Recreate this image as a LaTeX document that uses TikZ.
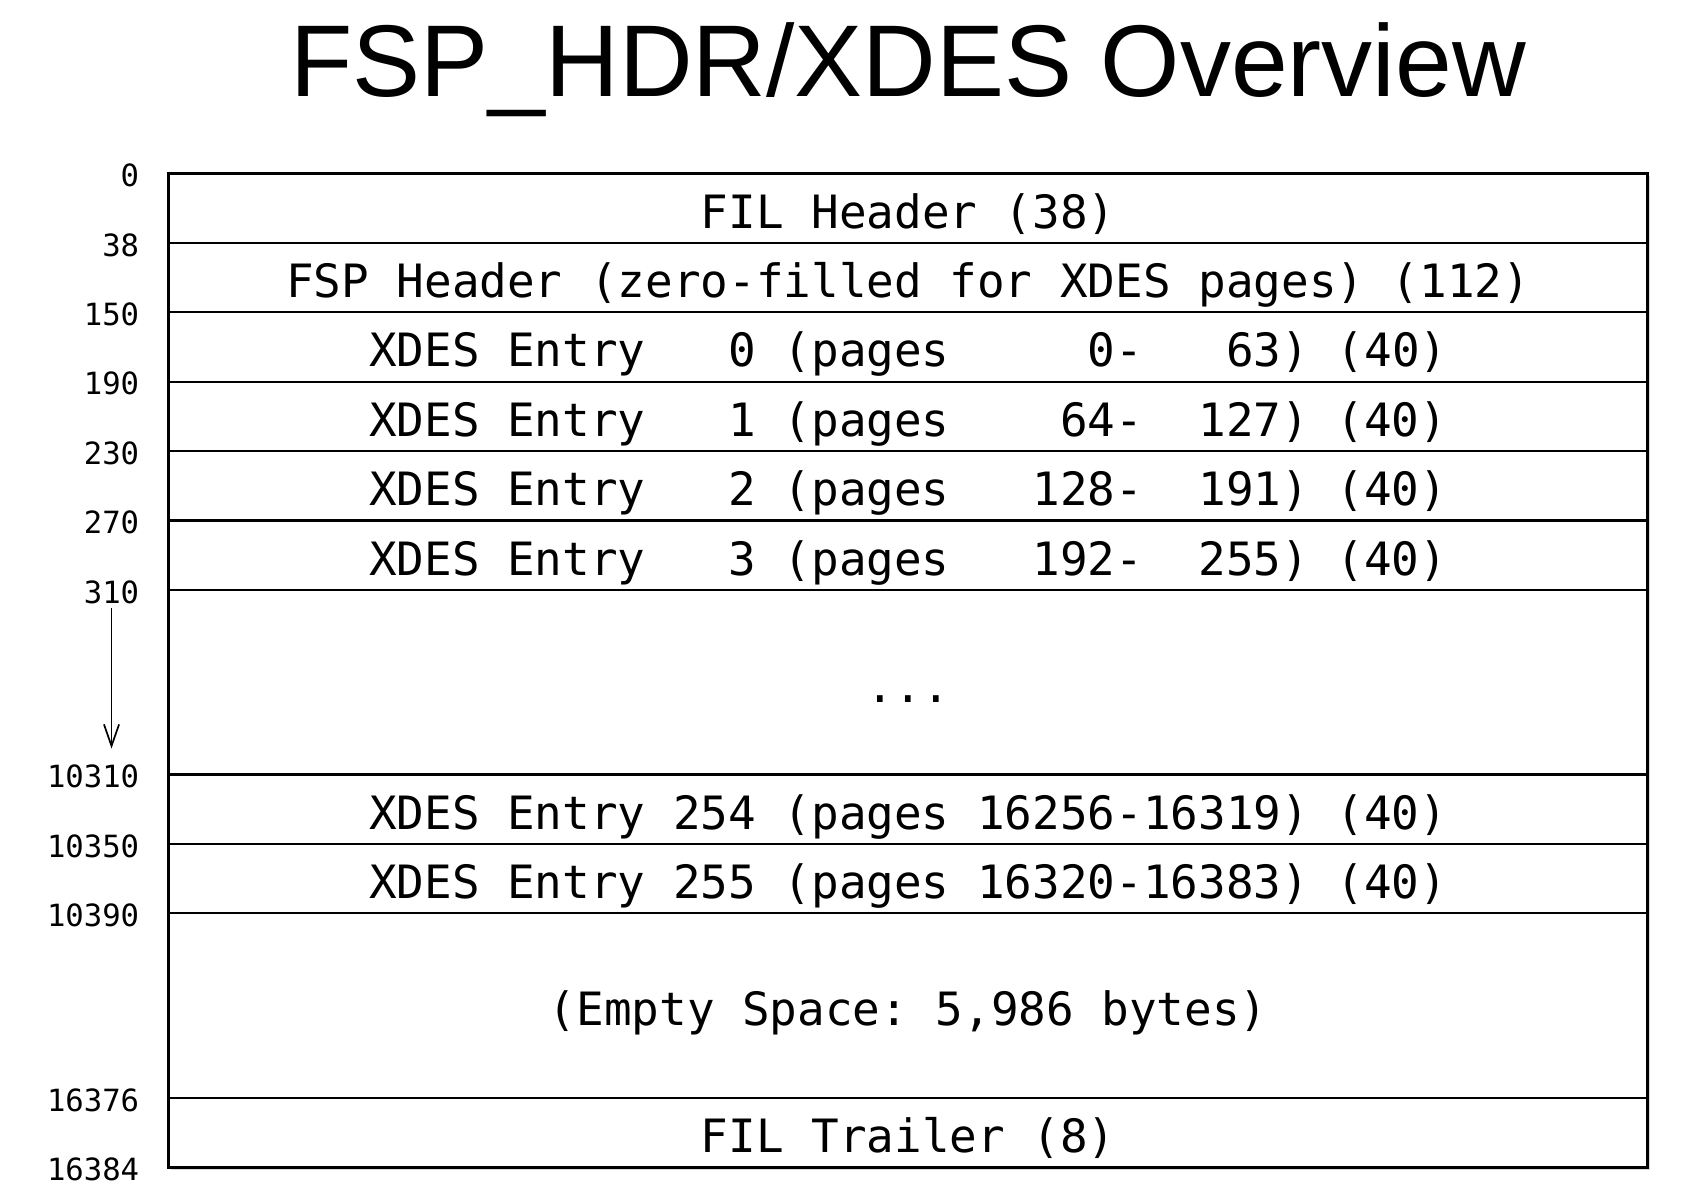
\documentclass[tikz,border=0pt]{standalone}
\usepackage{fontspec}
\setmainfont{Liberation Sans}
\newfontfamily\codefont{DejaVu Sans Mono}
\usetikzlibrary{positioning,arrows.meta,backgrounds,shadows}
\frenchspacing

\begin{document}
\begin{tikzpicture}
    [
    x=0.5pt, y=-0.5pt,
    field/.style={draw, line width=1pt, rectangle, inner sep=0pt, outer sep=0pt,
      minimum width=686pt, minimum height=32.2pt, text height=18.6pt, text depth=0pt,
      font=\codefont\fontsize{21.3}{24}\selectfont},
    wide field/.style={field, minimum height=85.6pt},
    offlabel/.style={anchor=east, inner sep=0pt, xshift=-13.5pt, yshift=-1pt,
      font=\codefont\fontsize{14.2}{16}\selectfont},
    frame/.style={draw, line width=1.3pt, fill=white,
      drop shadow={opacity=0.3, shadow xshift=1.2pt, shadow yshift=-1.2pt}},
    ]
    \useasboundingbox (0,0) rectangle (1560.3,1105.8);

    \node[field] (fil) at (842.5,193) {FIL Header (38)};
    \node[field, below=0pt of fil] (fsp) {FSP Header (zero-filled for XDES pages) (112)};
    \node[field, below=0pt of fsp] (x0) {XDES Entry~~~0 (pages~~~~~0-~~~63) (40)};
    \node[field, below=0pt of x0] (x1) {XDES Entry~~~1 (pages~~~~64-~~127) (40)};
    \node[field, below=0pt of x1] (x2) {XDES Entry~~~2 (pages~~~128-~~191) (40)};
    \node[field, below=0pt of x2] (x3) {XDES Entry~~~3 (pages~~~192-~~255) (40)};
    \node[wide field, below=0pt of x3] (dots) {...};
    \node[field, below=0pt of dots] (x254) {XDES Entry 254 (pages 16256-16319) (40)};
    \node[field, below=0pt of x254] (x255) {XDES Entry 255 (pages 16320-16383) (40)};
    \node[wide field, below=0pt of x255] (empty) {(Empty Space: 5,986 bytes)};
    \node[field, below=0pt of empty] (trl) {FIL Trailer (8)};

    \node[above=35.5pt of fil, inner sep=0pt, text depth=0pt,
      font=\fontsize{47.3}{50}\selectfont] (title) {FSP\_HDR/XDES Overview};

    % byte offsets
    \node[offlabel] (o0) at (fil.north west) {0};
    \node[offlabel] (o38) at (fil.south west) {38};
    \node[offlabel] (o150) at (fsp.south west) {150};
    \node[offlabel] (o190) at (x0.south west) {190};
    \node[offlabel] (o230) at (x1.south west) {230};
    \node[offlabel] (o270) at (x2.south west) {270};
    \node[offlabel] (o310) at (x3.south west) {310};
    \node[offlabel] (o10310) at (dots.south west) {10310};
    \node[offlabel] (o10350) at (x254.south west) {10350};
    \node[offlabel] (o10390) at (x255.south west) {10390};
    \node[offlabel] (o16376) at (empty.south west) {16376};
    \node[offlabel] (o16384) at (trl.south west) {16384};

    \draw[-{Straight Barb[length=10pt,width=7pt]}, line width=0.8pt,
      shorten <=2pt, shorten >=13pt] (o310) -- (o310 |- o10310);

    \begin{scope}[on background layer]
      \draw[frame] (fil.north west) rectangle (trl.south east);
    \end{scope}
  \end{tikzpicture}
\end{document}
